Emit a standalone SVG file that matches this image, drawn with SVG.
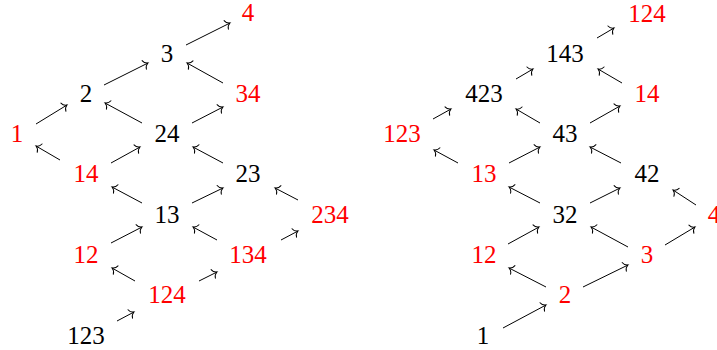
<svg xmlns="http://www.w3.org/2000/svg" width="717" height="350" viewBox="0 0 717 350" font-family="'Liberation Serif', 'DejaVu Serif', 'Times New Roman', serif">
  <defs>
    <!-- curved open "to" arrow tip -->
    <marker id="to" markerUnits="userSpaceOnUse" markerWidth="14" markerHeight="14" refX="0" refY="0" viewBox="-7 -7 14 14" orient="auto" overflow="visible">
      <path d="M-4.2,-4.8 C-3.6,-2 -1.4,-0.5 0,0 C-1.4,0.5 -3.6,2 -4.2,4.8" fill="none" stroke="#000" stroke-width="1" stroke-linecap="round"/>
    </marker>
  </defs>
  <style>
    text { font-family: 'Liberation Serif', 'DejaVu Serif', 'Times New Roman', serif; font-size: 25px; text-anchor: middle; }
    .r { fill: #ff0000; }
    .b { fill: #000000; }
    .edges line { stroke: #000; stroke-width: 1; fill: none; marker-end: url(#to); }
  </style>

  <!-- left lattice -->
  <g id="left" font-family="Liberation Serif">
    <g id="L-4"><text class="r" x="248" y="21">4</text></g>
    <g id="L-3"><text class="b" x="167" y="62">3</text></g>
    <g id="L-2"><text class="b" x="86" y="102">2</text></g>
    <g id="L-34"><text class="r" x="248" y="102">34</text></g>
    <g id="L-1"><text class="r" x="17" y="142">1</text></g>
    <g id="L-24"><text class="b" x="167" y="142">24</text></g>
    <g id="L-14"><text class="r" x="86" y="182">14</text></g>
    <g id="L-23"><text class="b" x="248" y="182">23</text></g>
    <g id="L-13"><text class="b" x="167" y="223">13</text></g>
    <g id="L-234"><text class="r" x="330" y="223">234</text></g>
    <g id="L-12"><text class="r" x="86" y="263">12</text></g>
    <g id="L-134"><text class="r" x="248" y="263">134</text></g>
    <g id="L-124"><text class="r" x="167" y="303">124</text></g>
    <g id="L-123"><text class="b" x="86" y="344">123</text></g>
  </g>
  <g id="left-edges" class="edges">
    <line x1="186" y1="45" x2="230" y2="23"/>
    <line x1="223" y1="83" x2="187" y2="63"/>
    <line x1="104" y1="85" x2="148" y2="63"/>
    <line x1="192" y1="123" x2="223" y2="107"/>
    <line x1="36" y1="124" x2="67" y2="105"/>
    <line x1="142" y1="123" x2="105" y2="103"/>
    <line x1="60" y1="160" x2="36" y2="146"/>
    <line x1="111" y1="163" x2="140" y2="147"/>
    <line x1="223" y1="163" x2="193" y2="147"/>
    <line x1="142" y1="203" x2="112" y2="187"/>
    <line x1="192" y1="203" x2="223" y2="188"/>
    <line x1="298" y1="200" x2="275" y2="188"/>
    <line x1="111" y1="243" x2="142" y2="227"/>
    <line x1="217" y1="240" x2="193" y2="227"/>
    <line x1="281" y1="240" x2="298" y2="231"/>
    <line x1="135" y1="281" x2="112" y2="268"/>
    <line x1="199" y1="281" x2="217" y2="272"/>
    <line x1="117" y1="321" x2="134" y2="312"/>
  </g>

  <!-- right lattice -->
  <g id="right" font-family="Liberation Serif">
    <g id="R-124"><text class="r" x="647" y="22">124</text></g>
    <g id="R-143"><text class="b" x="565" y="62">143</text></g>
    <g id="R-423"><text class="b" x="484" y="102">423</text></g>
    <g id="R-14"><text class="r" x="647" y="102">14</text></g>
    <g id="R-123"><text class="r" x="402" y="142">123</text></g>
    <g id="R-43"><text class="b" x="565" y="142">43</text></g>
    <g id="R-13"><text class="r" x="484" y="182">13</text></g>
    <g id="R-42"><text class="b" x="647" y="182">42</text></g>
    <g id="R-32"><text class="b" x="565" y="223">32</text></g>
    <g id="R-4"><text class="r" x="714" y="223">4</text></g>
    <g id="R-12"><text class="r" x="484" y="263">12</text></g>
    <g id="R-3"><text class="r" x="647" y="263">3</text></g>
    <g id="R-2"><text class="r" x="565" y="303">2</text></g>
    <g id="R-1"><text class="b" x="483" y="344">1</text></g>
  </g>
  <g id="right-edges" class="edges">
    <line x1="597" y1="38" x2="614" y2="28"/>
    <line x1="622" y1="83" x2="598" y2="69"/>
    <line x1="516" y1="79" x2="533" y2="69"/>
    <line x1="590" y1="123" x2="620" y2="106"/>
    <line x1="433" y1="119" x2="451" y2="109"/>
    <line x1="540" y1="123" x2="516" y2="109"/>
    <line x1="458" y1="163" x2="434" y2="150"/>
    <line x1="509" y1="163" x2="540" y2="147"/>
    <line x1="621" y1="163" x2="590" y2="147"/>
    <line x1="540" y1="203" x2="509" y2="187"/>
    <line x1="590" y1="203" x2="620" y2="188"/>
    <line x1="696" y1="205" x2="673" y2="190"/>
    <line x1="508" y1="244" x2="539" y2="227"/>
    <line x1="628" y1="247" x2="591" y2="227"/>
    <line x1="665" y1="245" x2="695" y2="227"/>
    <line x1="546" y1="287" x2="509" y2="268"/>
    <line x1="583" y1="287" x2="628" y2="265"/>
    <line x1="503" y1="328" x2="546" y2="305"/>
  </g>
</svg>
